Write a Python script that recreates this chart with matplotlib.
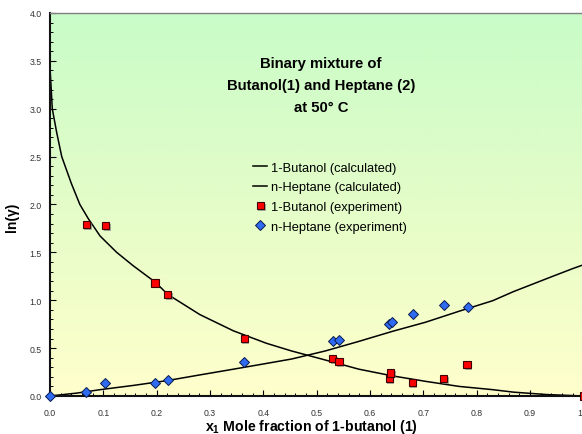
import numpy as np
import matplotlib
matplotlib.use("Agg")
import matplotlib.pyplot as plt
import matplotlib.patheffects as pe
from matplotlib.colors import LinearSegmentedColormap
from matplotlib.ticker import MultipleLocator, FormatStrFormatter

plt.rcParams.update({
    'font.family': ['Liberation Sans', 'DejaVu Sans'],
    'mathtext.fontset': 'custom',
    'mathtext.rm': 'Liberation Sans',
    'mathtext.bf': 'Liberation Sans:bold',
})

# Experimental activity coefficients, ln(gamma)
x_but_exp = [0.068, 0.104, 0.197, 0.221, 0.364, 0.530, 0.542, 0.636, 0.639, 0.679, 0.738, 0.782, 1.0]
ln_but_exp = [1.79, 1.78, 1.18, 1.06, 0.60, 0.39, 0.36, 0.18, 0.24, 0.14, 0.18, 0.33, 0.0]

x_hep_exp = [0.0, 0.068, 0.104, 0.197, 0.221, 0.364, 0.530, 0.542, 0.636, 0.641, 0.680, 0.738, 0.783]
ln_hep_exp = [0.0, 0.04, 0.14, 0.14, 0.17, 0.35, 0.57, 0.58, 0.755, 0.775, 0.856, 0.947, 0.933]

# Model curves (calculated)
x_but_calc = [0.0, 0.0043, 0.0126, 0.022, 0.040, 0.056, 0.072, 0.094, 0.125, 0.156, 0.197, 0.221,
              0.281, 0.344, 0.406, 0.453, 0.516, 0.579, 0.642, 0.704, 0.767, 0.830, 0.869, 0.931, 1.0]
ln_but_calc = [3.43, 3.0, 2.75, 2.5, 2.22, 2.0, 1.85, 1.67, 1.50, 1.36, 1.19, 1.06,
               0.85, 0.68, 0.55, 0.47, 0.376, 0.28, 0.21, 0.153, 0.10, 0.066, 0.04, 0.015, 0.0]

x_hep_calc = [0.0, 0.05, 0.094, 0.156, 0.219, 0.281, 0.344, 0.406, 0.453, 0.516, 0.579, 0.642,
              0.704, 0.767, 0.830, 0.869, 0.938, 0.980, 1.0]
ln_hep_calc = [0.0, 0.03, 0.066, 0.11, 0.16, 0.22, 0.28, 0.34, 0.386, 0.47, 0.57, 0.675,
               0.77, 0.885, 0.995, 1.09, 1.24, 1.33, 1.37]

title_lines = "Binary mixture of\nButanol(1) and Heptane (2)\nat 50\u00b0 C"

fig = plt.figure(figsize=(5.82, 4.35), dpi=100)
ax = fig.add_axes([0.0859, 0.0874, 0.9164, 0.8805])

# green-to-yellow background
cmap = LinearSegmentedColormap.from_list('bg', ['#FFFFCC', '#E4FDC8', '#C8FCC8'])
grad = np.linspace(0, 1, 256).reshape(-1, 1)
ax.imshow(grad, cmap=cmap, aspect='auto', extent=[0, 1, 0, 4], origin='lower', zorder=0)

ax.plot(x_but_calc, ln_but_calc, color='black', lw=1.1, label='1-Butanol (calculated)', zorder=2)
ax.plot(x_hep_calc, ln_hep_calc, color='black', lw=1.1, label='n-Heptane (calculated)', zorder=2)

shadow = [pe.SimplePatchShadow(offset=(1.2, -1.2), shadow_rgbFace='#777777', alpha=0.6), pe.Normal()]
ax.plot(x_but_exp, ln_but_exp, ls='none', marker='s', ms=5.2, mfc='#FF0000', mec='#400000',
        mew=0.8, label='1-Butanol (experiment)', zorder=3, clip_on=False, path_effects=shadow)
ax.plot(x_hep_exp, ln_hep_exp, ls='none', marker='D', ms=4.8, mfc='#2F6BF0', mec='#0A1A50',
        mew=0.7, label='n-Heptane (experiment)', zorder=3, clip_on=False)

ax.set_xlim(0, 1)
ax.set_ylim(0, 4)

ax.xaxis.set_major_locator(MultipleLocator(0.1))
ax.xaxis.set_minor_locator(MultipleLocator(0.02))
ax.yaxis.set_major_locator(MultipleLocator(0.5))
ax.yaxis.set_minor_locator(MultipleLocator(0.1))
ax.xaxis.set_major_formatter(FormatStrFormatter('%.1f'))
ax.yaxis.set_major_formatter(FormatStrFormatter('%.1f'))
ax.tick_params(which='major', direction='in', length=4, width=0.8, labelsize=6.3,
               labelcolor='#333333')
ax.tick_params(axis='x', which='major', pad=9)
ax.tick_params(axis='y', which='major', pad=6)
ax.tick_params(which='minor', direction='in', length=2.5, width=0.7)
ax.tick_params(top=False, right=False, which='both')

for side in ['left', 'bottom']:
    ax.spines[side].set_linewidth(1.5)
    ax.spines[side].set_color('#111111')
ax.spines['top'].set_color('#808080')
ax.spines['top'].set_linewidth(1.0)
ax.spines['right'].set_visible(False)

ax.set_xlabel(r'x$_\mathbf{1}$ Mole fraction of 1-butanol (1)', fontsize=10.2, fontweight='bold')
ax.xaxis.label.set_va('center')
ax.xaxis.set_label_coords(0.491, -0.078)
ax.set_ylabel('ln(\u03b3)', fontsize=10, fontweight='bold')
ax.yaxis.label.set_va('center')
ax.yaxis.set_label_coords(-0.071, 0.47)

ax.text(0.508, 3.25, title_lines, ha='center', va='center', fontsize=10.7, fontweight='bold',
        linespacing=1.75)

leg = ax.legend(loc='upper left', bbox_to_anchor=(0.381, 0.612), frameon=False, fontsize=9.3,
                handlelength=1.1, handletextpad=0.25, labelspacing=0.6, borderpad=0,
                borderaxespad=0, numpoints=1)

fig.savefig('out.png', dpi=100)
